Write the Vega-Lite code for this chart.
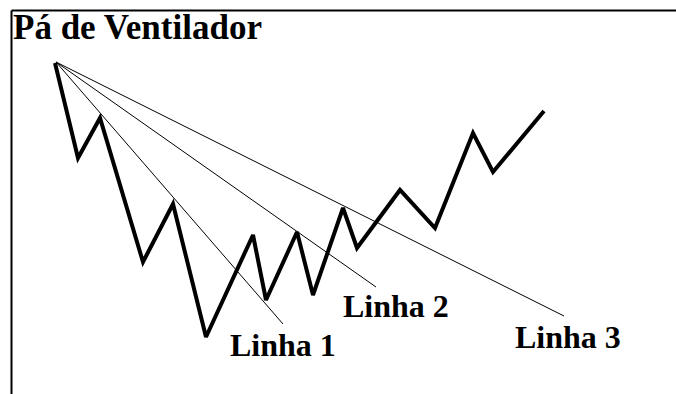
{
  "$schema": "https://vega.github.io/schema/vega-lite/v6.json",
  "width": 665,
  "height": 384,
  "autosize": {"type": "none"},
  "padding": {"left": 11, "top": 10, "right": 0, "bottom": 0},
  "background": "white",
  "view": {"stroke": null, "fill": null},
  "config": {
    "view": {"stroke": null},
    "axis": {"domain": true, "domainColor": "black", "domainWidth": 2, "ticks": false, "labels": false, "grid": false, "title": null}
  },
  "datasets": {
    "zigzag": [
      {"i": 0, "x": 55, "y": 331},
      {"i": 1, "x": 78, "y": 236},
      {"i": 2, "x": 100, "y": 276},
      {"i": 3, "x": 143, "y": 132},
      {"i": 4, "x": 173, "y": 190},
      {"i": 5, "x": 206, "y": 57},
      {"i": 6, "x": 253, "y": 159},
      {"i": 7, "x": 266, "y": 94},
      {"i": 8, "x": 297, "y": 162},
      {"i": 9, "x": 313, "y": 99},
      {"i": 10, "x": 343, "y": 186},
      {"i": 11, "x": 357, "y": 146},
      {"i": 12, "x": 400, "y": 204},
      {"i": 13, "x": 435, "y": 166},
      {"i": 14, "x": 473, "y": 261},
      {"i": 15, "x": 493, "y": 222},
      {"i": 16, "x": 544, "y": 283}
    ],
    "fan": [
      {"line": "Linha 1", "x": 56, "y": 332},
      {"line": "Linha 1", "x": 283, "y": 70},
      {"line": "Linha 2", "x": 56, "y": 332},
      {"line": "Linha 2", "x": 376, "y": 107},
      {"line": "Linha 3", "x": 56, "y": 332},
      {"line": "Linha 3", "x": 564, "y": 78}
    ],
    "title": [
      {"x": 13, "y": 355, "text": "Pá de Ventilador"}
    ],
    "labels": [
      {"x": 230, "y": 38, "text": "Linha 1"},
      {"x": 343, "y": 77, "text": "Linha 2"},
      {"x": 515, "y": 46, "text": "Linha 3"}
    ]
  },
  "layer": [
    {
      "data": {"name": "fan"},
      "mark": {"type": "line", "color": "black", "strokeWidth": 1},
      "encoding": {
        "x": {"field": "x", "type": "quantitative", "scale": {"domain": [11, 676], "nice": false, "zero": false}, "axis": {"orient": "top"}},
        "y": {"field": "y", "type": "quantitative", "scale": {"domain": [0, 384], "nice": false, "zero": false}, "axis": {"orient": "left"}},
        "detail": {"field": "line", "type": "nominal"}
      }
    },
    {
      "data": {"name": "zigzag"},
      "mark": {"type": "line", "color": "black", "strokeWidth": 4, "strokeJoin": "miter", "strokeMiterLimit": 3},
      "encoding": {
        "x": {"field": "x", "type": "quantitative"},
        "y": {"field": "y", "type": "quantitative"},
        "order": {"field": "i", "type": "quantitative"}
      }
    },
    {
      "data": {"name": "title"},
      "mark": {"type": "text", "align": "left", "baseline": "alphabetic", "font": "Liberation Serif", "fontWeight": "bold", "fontSize": 35, "color": "black"},
      "encoding": {
        "x": {"field": "x", "type": "quantitative"},
        "y": {"field": "y", "type": "quantitative"},
        "text": {"field": "text"}
      }
    },
    {
      "data": {"name": "labels"},
      "mark": {"type": "text", "align": "left", "baseline": "alphabetic", "font": "Liberation Serif", "fontWeight": "bold", "fontSize": 32, "color": "black"},
      "encoding": {
        "x": {"field": "x", "type": "quantitative"},
        "y": {"field": "y", "type": "quantitative"},
        "text": {"field": "text"}
      }
    }
  ]
}
